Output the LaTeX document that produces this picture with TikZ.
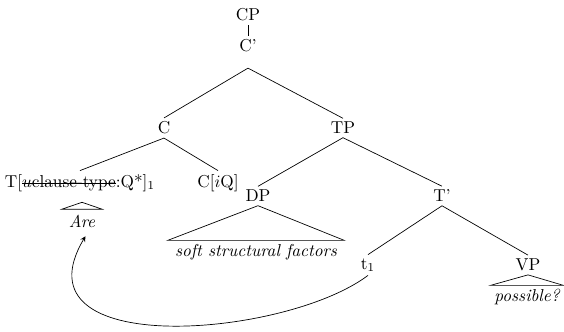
\documentclass[tikz,border=0pt]{standalone}
\usetikzlibrary{positioning}

\newcommand{\strk}[1]{\setbox0\hbox{#1}\rlap{\rule[0.55ex]{\wd0}{0.4pt}}\box0}

\begin{document}
\begin{tikzpicture}[
    x=0.58pt,y=-0.58pt,
    >=stealth,
    every node/.style={inner sep=2pt},
    lbl/.style={font=\itshape,inner sep=2pt}
]
\useasboundingbox (0,0) rectangle (564,332);

% Top of the tree
\node (CP)   at (248,15)  {CP};
\node (Cbar) at (248,46)  {C'};
\draw (CP.south) -- (Cbar.north);

% C and TP
\node (C)  at (164,128) {C};
\node (TP) at (343,128) {TP};
\draw ([yshift=-7pt]Cbar.south) -- (C.north);
\draw ([yshift=-7pt]Cbar.south) -- (TP.north);

% Under C
\node (T)   at (80,183)  {T[\strk{$u$clause-type}:Q*]$_1$};
\node (CiQ) at (218,183) {C[$i$Q]};
\draw (C.south) -- (T.north);
\draw (C.south) -- (CiQ.north);

\node[lbl,minimum width=23pt,inner ysep=3pt] (Are) at (82,221) {Are};
\draw ([yshift=4pt]Are.north) -- (Are.north west) -- (Are.north east) -- cycle;

% Under TP
\node (DP)   at (258,196) {DP};
\node (Tbar) at (442,196) {T'};
\draw (TP.south) -- (DP.north);
\draw (TP.south) -- (Tbar.north);

\node[lbl,inner xsep=4pt] (sf) at (256,252) {soft structural factors};
\draw (DP.south) -- (sf.north west) -- (sf.north east) -- cycle;

% Under T'
\node (t1) at (368,265) {t$_1$};
\node (VP) at (528,265) {VP};
\draw (Tbar.south) -- (t1.north);
\draw (Tbar.south) -- (VP.north);

\node[lbl] (poss) at (527,297) {possible?};
\draw (VP.south) -- (poss.north west) -- (poss.north east) -- cycle;

% Movement arrow
\draw[->] (t1.south) .. controls (285,338) and (12,360) .. ([xshift=2pt,yshift=-2pt]Are.south);

\end{tikzpicture}
\end{document}
